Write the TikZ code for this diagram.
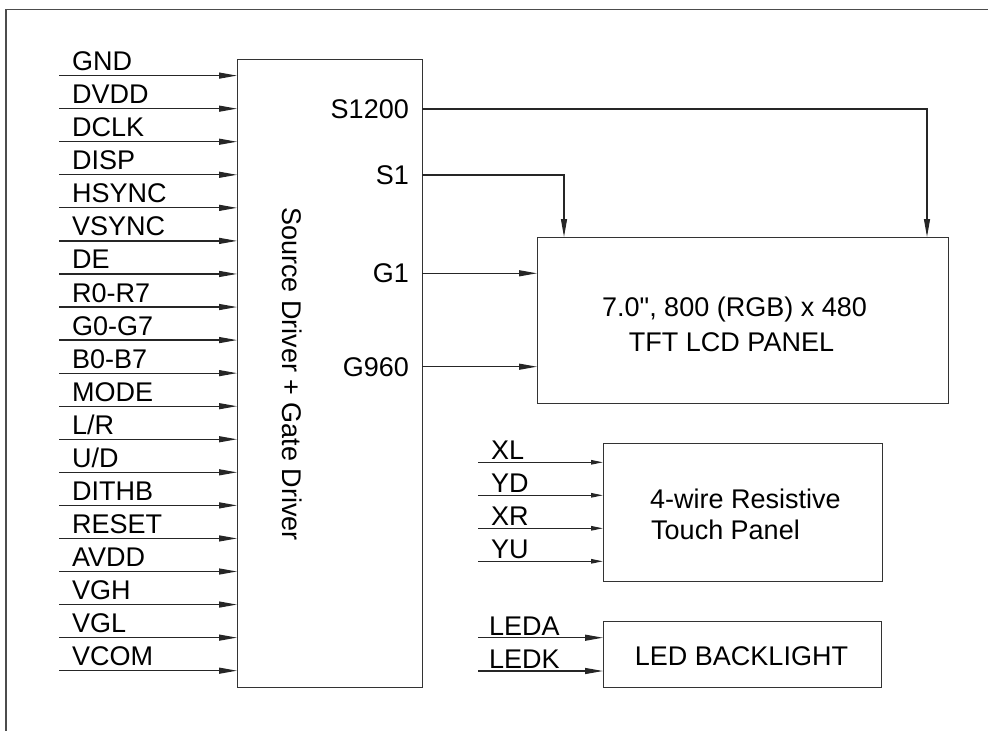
\documentclass[tikz,border=0pt]{standalone}
\usepackage{fontspec}
\setmainfont{Liberation Sans}
\newfontfamily\plainq{Liberation Sans}
\usetikzlibrary{arrows.meta}
\begin{document}
\begin{tikzpicture}[x=1pt,y=-1pt,
  wire/.style={line width=1.2pt, draw=black!85},
  arr/.style={wire, -{Triangle[length=18pt,width=6pt]}},
  sarr/.style={wire, -{Triangle[length=12pt,width=4.5pt]}},
  box/.style={draw=black!80, line width=1.4pt, inner sep=0pt, anchor=north west},
  txt/.style={font=\fontsize{27}{32}\selectfont, inner sep=0pt, text=black}]
\useasboundingbox (0,0) rectangle (988,731);
% frame
\draw[draw=black!70, line width=1.2pt] (988,9.5) -- (6,9.5) -- (6,731);
% boxes
\node[box, minimum width=185pt, minimum height=628pt] (drv) at (237,59) {};
\node[box, minimum width=411pt, minimum height=166pt] (lcd) at (537,237) {};
\node[box, minimum width=279pt, minimum height=138pt] (tp) at (603,443) {};
\node[box, minimum width=278pt, minimum height=66pt] (led) at (603,621) {};
% texts in boxes
\node[txt, rotate=-90] (drvtxt) at (292.5,374) {Source Driver + Gate Driver};
\node[txt, anchor=base] (lcdtxta) at (734.5,316.7) {\plainq 7.0", 800 (RGB) x 480};
\node[txt, anchor=base] (lcdtxtb) at (731.5,351.7) {TFT LCD PANEL};
\node[txt, anchor=base west] (tptxta) at (650,508) {4-wire Resistive};
\node[txt, anchor=base west] (tptxtb) at (651,539) {Touch Panel};
\node[txt, anchor=base] (ledtxt) at (741.5,665) {LED BACKLIGHT};
% driver inputs
\foreach \t [count=\i from 0] in {GND,DVDD,DCLK,DISP,HSYNC,VSYNC,DE,R0-R7,G0-G7,B0-B7,MODE,L/R,U/D,DITHB,RESET,AVDD,VGH,VGL,VCOM} {
  \pgfmathsetmacro\yy{75.6+33.06*\i}
  \coordinate (in\i) at (59,\yy);
  \node[txt, anchor=base west] (lab\i) at (72,\yy-5) {\t};
  \draw[arr] (in\i) -- (in\i -| drv.west);
}
% driver outputs
\foreach \t/\yy/\nm in {S1200/109/sa, S1/175/sb, G1/273.3/ga, G960/366.7/gb} {
  \coordinate (\nm) at (422,\yy);
  \node[txt, anchor=base east] (lab\nm) at (409,\yy+9.5) {\t};
}
\draw[arr] (sa) -| ([xshift=390pt]lcd.north west);
\draw[arr] (sb) -| ([xshift=27pt]lcd.north west);
\draw[arr] (ga) -- (ga -| lcd.west);
\draw[arr] (gb) -- (gb -| lcd.west);
% touch panel inputs
\foreach \t/\yy/\nm in {XL/462.3/xl, YD/495.3/yd, XR/528.3/xr, YU/561.3/yu} {
  \coordinate (\nm) at (478,\yy);
  \node[txt, anchor=base west] (lab\nm) at (491,\yy-2.5) {\t};
  \draw[sarr] (\nm) -- (\nm -| tp.west);
}
% backlight inputs
\foreach \t/\yy/\nm in {LEDA/637.7/la, LEDK/671/lk} {
  \coordinate (\nm) at (478,\yy);
  \node[txt, anchor=base west] (lab\nm) at (489,\yy-2.7) {\t};
  \draw[arr] (\nm) -- (\nm -| led.west);
}
\end{tikzpicture}
\end{document}
